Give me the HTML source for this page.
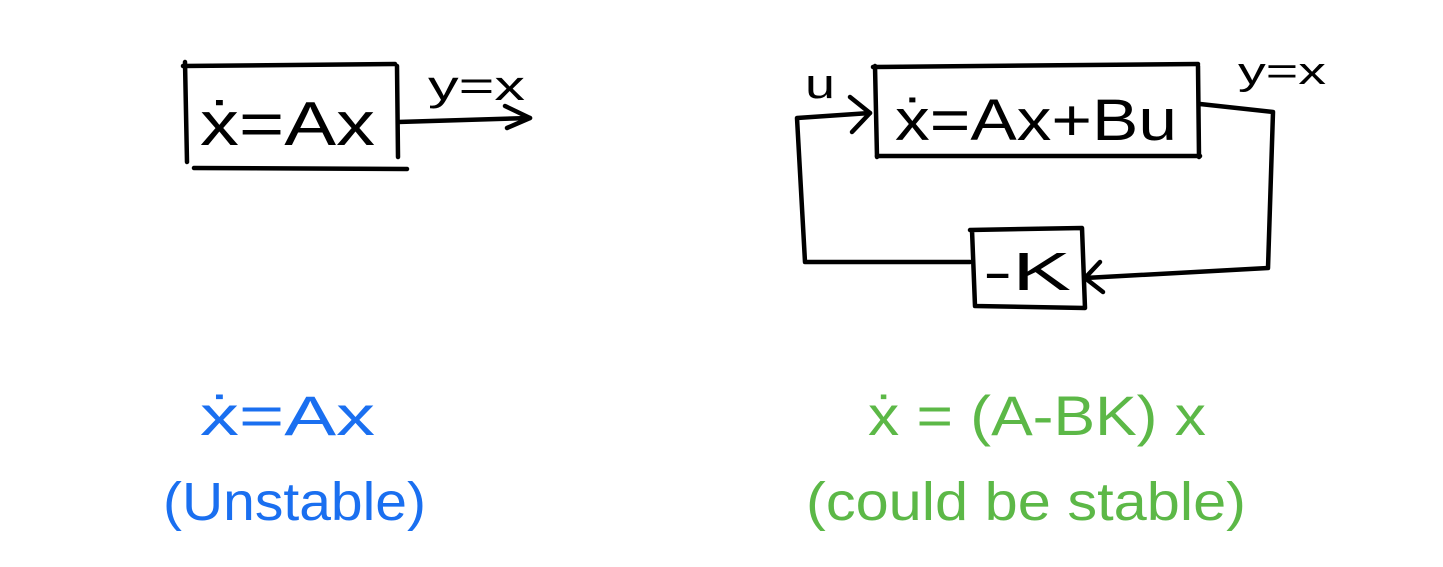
<!DOCTYPE html>
<html><head><meta charset="utf-8"><style>
html,body{margin:0;padding:0;background:#fff;}
svg{display:block;}
text{font-family:"Liberation Sans",sans-serif;}
</style></head><body>
<svg width="1443" height="567" viewBox="0 0 1443 567" xmlns="http://www.w3.org/2000/svg">
<g fill="none" stroke="#000" stroke-width="4.5" stroke-linecap="round" stroke-linejoin="round">
<!-- left box -->
<path d="M183 66 L395 64"/>
<path d="M185 62 L187 162"/>
<path d="M397 66 L398 157"/>
<path d="M194 168 L407 169"/>
<path d="M398 122 L530 118"/>
<path d="M505 106 L530 118 L507 128"/>
<!-- right box -->
<path d="M873 67 L1198 64"/>
<path d="M875 66 L877 157"/>
<path d="M1198 66 L1199 157"/>
<path d="M877 156 L1200 156"/>
<!-- loop -->
<path d="M1200 104 L1273 112 L1268 268 L1085 278"/>
<path d="M1100 262 L1085 278 L1103 292"/>
<path d="M970 230 L1082 228 L1085 308 L975 306 L972 230"/>
<path d="M970 262 L805 262 L797 118 L870 113"/>
<path d="M850 97 L870 113 L852 132"/>
</g>
<g fill="#000">
<text x="200" y="145" font-size="62" textLength="175" lengthAdjust="spacingAndGlyphs">ẋ=Ax</text>
<text x="428" y="100" font-size="42" textLength="97" lengthAdjust="spacingAndGlyphs">y=x</text>
<text x="895" y="140" font-size="58" textLength="282" lengthAdjust="spacingAndGlyphs">ẋ=Ax+Bu</text>
<text x="805" y="98" font-size="42" textLength="30" lengthAdjust="spacingAndGlyphs">u</text>
<text x="1238" y="84" font-size="38" textLength="88" lengthAdjust="spacingAndGlyphs">y=x</text>
<text x="983" y="290" font-size="54" textLength="88" lengthAdjust="spacingAndGlyphs">-K</text>
</g>
<text x="200" y="435" font-size="56" fill="#1a6ff0" textLength="175" lengthAdjust="spacingAndGlyphs">ẋ=Ax</text>
<text x="163" y="520" font-size="54" fill="#1a6ff0" textLength="263" lengthAdjust="spacingAndGlyphs">(Unstable)</text>
<text x="868" y="435" font-size="56" fill="#5cb847" textLength="338" lengthAdjust="spacingAndGlyphs">ẋ = (A-BK) x</text>
<text x="806" y="520" font-size="54" fill="#5cb847" textLength="440" lengthAdjust="spacingAndGlyphs">(could be stable)</text>
</svg>
</body></html>
